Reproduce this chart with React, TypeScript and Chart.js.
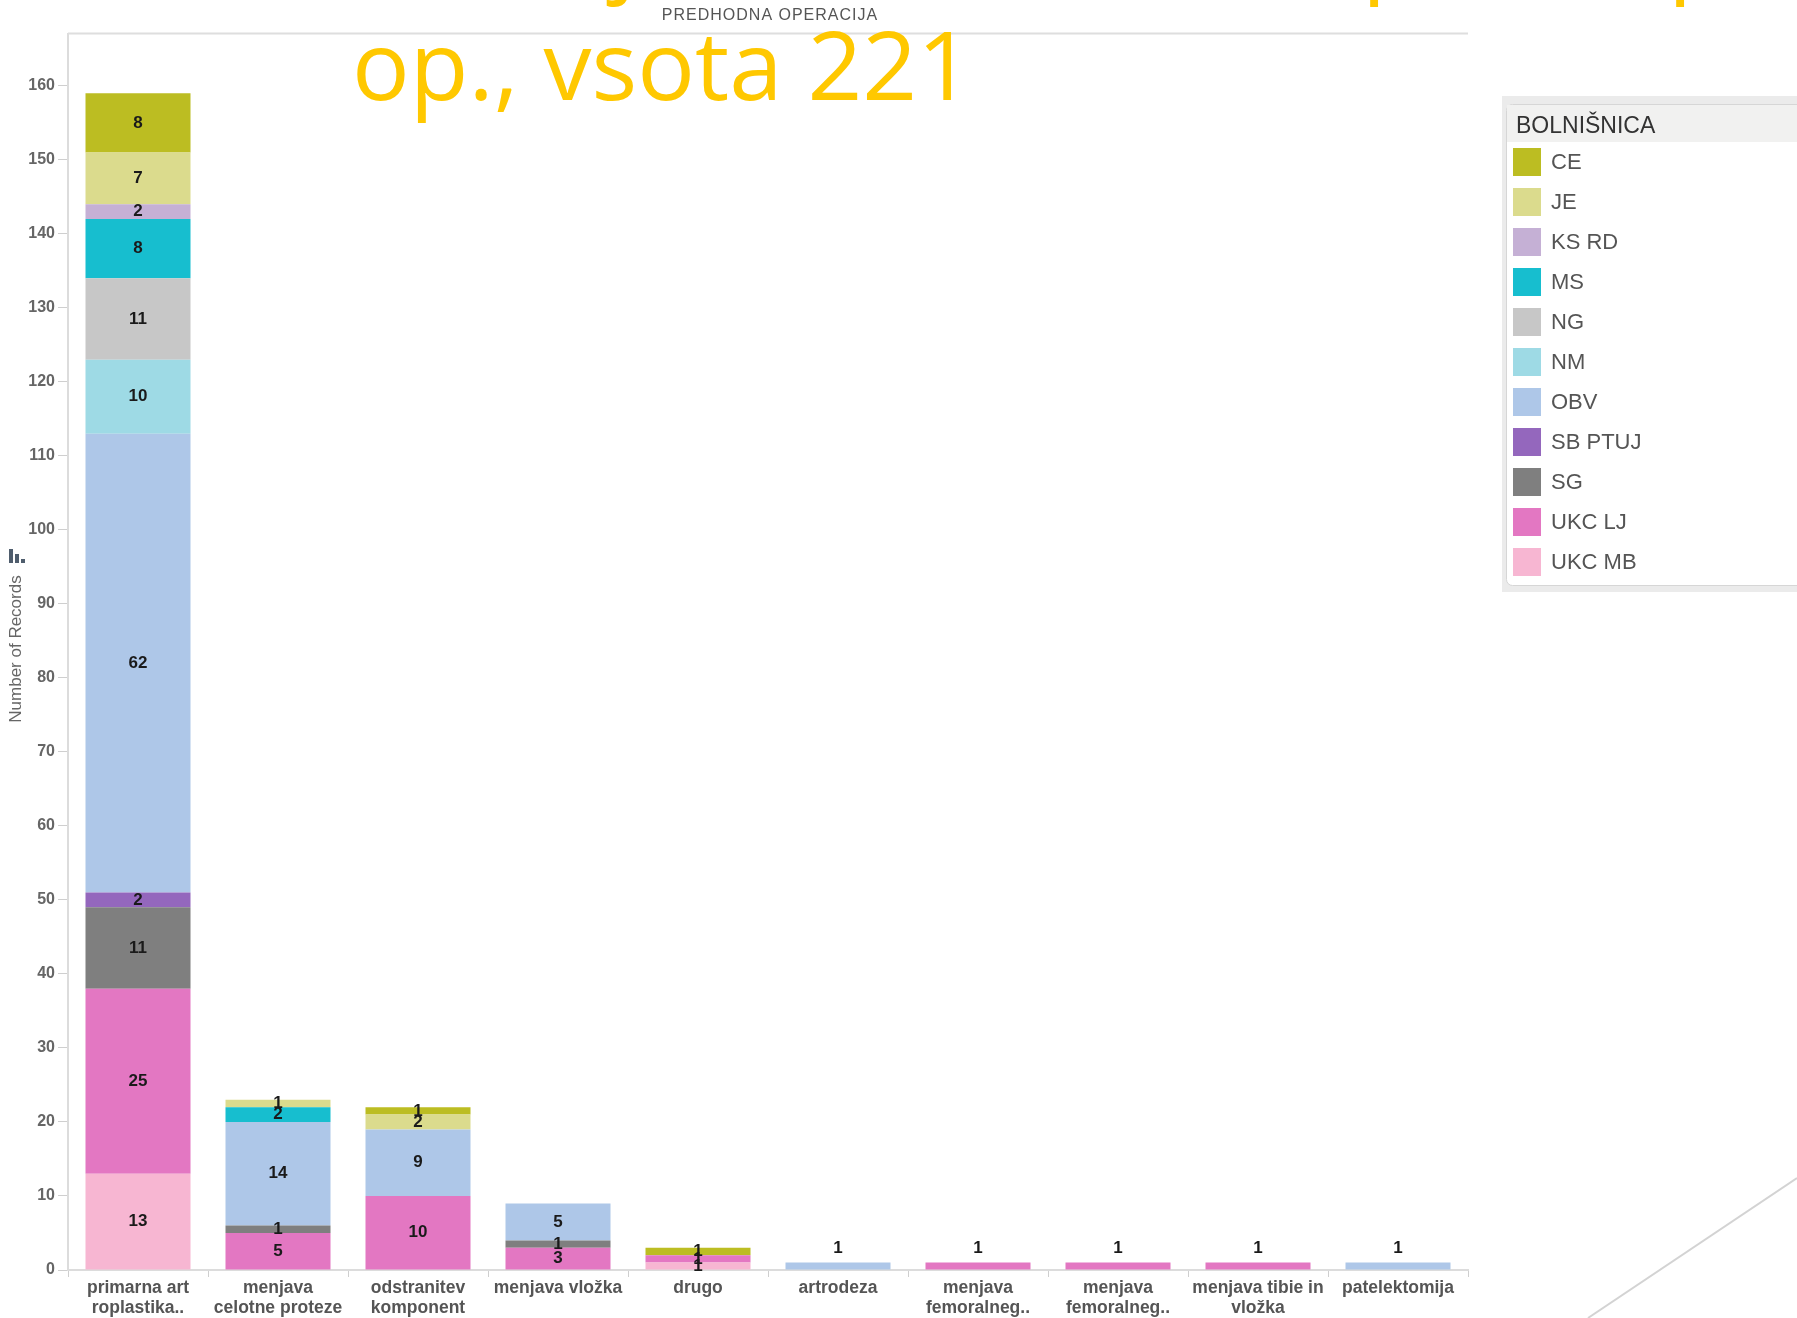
import React, { useEffect, useRef } from "react";
import { Chart, registerables } from "chart.js";

Chart.register(...registerables);

const categories: (string | string[])[] = [
  ["primarna art", "roplastika.."],
  ["menjava", "celotne proteze"],
  ["odstranitev", "komponent"],
  "menjava vložka",
  "drugo",
  "artrodeza",
  ["menjava", "femoralneg.."],
  ["menjava", "femoralneg.."],
  ["menjava tibie in", "vložka"],
  "patelektomija",
];

// stacked bottom -> top
const ukcMb = [13, 0, 0, 0, 1, 0, 0, 0, 0, 0];
const ukcLj = [25, 5, 10, 3, 1, 0, 1, 1, 1, 0];
const sg = [11, 1, 0, 1, 0, 0, 0, 0, 0, 0];
const sbPtuj = [2, 0, 0, 0, 0, 0, 0, 0, 0, 0];
const obv = [62, 14, 9, 5, 0, 1, 0, 0, 0, 1];
const nm = [10, 0, 0, 0, 0, 0, 0, 0, 0, 0];
const ng = [11, 0, 0, 0, 0, 0, 0, 0, 0, 0];
const ms = [8, 2, 0, 0, 0, 0, 0, 0, 0, 0];
const ksRd = [2, 0, 0, 0, 0, 0, 0, 0, 0, 0];
const je = [7, 1, 2, 0, 0, 0, 0, 0, 0, 0];
const ce = [8, 0, 1, 0, 1, 0, 0, 0, 0, 0];

const seriesNames = ["UKC MB", "UKC LJ", "SG", "SB PTUJ", "OBV", "NM", "NG", "MS", "KS RD", "JE", "CE"];
const seriesValues = [ukcMb, ukcLj, sg, sbPtuj, obv, nm, ng, ms, ksRd, je, ce];
const seriesColors = [
  "#F7B6D2", "#E377C2", "#7F7F7F", "#9467BD", "#AEC7E8", "#9EDAE5",
  "#C7C7C7", "#17BECF", "#C5B0D5", "#DBDB8D", "#BCBD22",
];

const legendTitle = "BOLNIŠNICA";
const xAxisTitle = "PREDHODNA OPERACIJA";
const yAxisTitle = "Number of Records";
const slideTitle = "op., vsota 221";
const yMax = 167;
const yStep = 10;

const FONT = '"Liberation Sans", Arial, sans-serif';

const decorPlugin = {
  id: "decor",
  afterDatasetsDraw(chart: any) {
    const ctx = chart.ctx as CanvasRenderingContext2D;
    ctx.save();
    ctx.font = `bold 17px ${FONT}`;
    ctx.fillStyle = "#1a1a1a";
    ctx.textAlign = "center";
    ctx.textBaseline = "middle";
    const ds = chart.data.datasets;
    for (let i = 0; i < categories.length; i++) {
      const nz: number[] = [];
      ds.forEach((d: any, k: number) => {
        if ((d.data[i] as number) > 0) nz.push(k);
      });
      nz.forEach((k) => {
        const el: any = chart.getDatasetMeta(k).data[i];
        const v = ds[k].data[i];
        const h = Math.abs(el.base - el.y);
        if (nz.length === 1 && h < 20) ctx.fillText(String(v), el.x, el.y - 14);
        else ctx.fillText(String(v), el.x, (el.y + el.base) / 2);
      });
    }
    ctx.restore();
  },
  afterDraw(chart: any) {
    const ctx = chart.ctx as CanvasRenderingContext2D;
    const area = chart.chartArea;
    ctx.save();
    // top border of plot
    ctx.strokeStyle = "#dedede";
    ctx.lineWidth = 2;
    ctx.beginPath();
    ctx.moveTo(area.left, 33.5);
    ctx.lineTo(area.right, 33.5);
    ctx.stroke();

    // x axis title (top)
    ctx.fillStyle = "#555";
    ctx.font = `16px ${FONT}`;
    (ctx as any).letterSpacing = "1px";
    ctx.textAlign = "center";
    ctx.textBaseline = "middle";
    ctx.fillText(xAxisTitle, 770, 16);
    (ctx as any).letterSpacing = "0px";

    // y axis title
    ctx.save();
    ctx.translate(16, 649);
    ctx.rotate(-Math.PI / 2);
    ctx.font = `17px ${FONT}`;
    ctx.fillStyle = "#666";
    ctx.fillText(yAxisTitle, 0, 0);
    ctx.restore();

    // small icon
    ctx.fillStyle = "#4f5d6d";
    ctx.fillRect(9, 549, 4, 14);
    ctx.fillRect(15, 554, 4, 9);
    ctx.fillRect(21, 559, 4, 4);

    // slide title (yellow)
    ctx.fillStyle = "#FFC800";
    ctx.font = '96px "Open Sans", "Noto Sans", sans-serif';
    ctx.textAlign = "left";
    ctx.textBaseline = "alphabetic";
    ctx.fillText(slideTitle, 352, 100);
    // cut-off previous line (only descenders visible)
    ctx.fillText("j", 612, -16);
    ctx.fillText("p", 1362, -16);
    ctx.fillText("p", 1668, -16);

    // legend
    ctx.fillStyle = "#ebebeb";
    ctx.fillRect(1502, 96, 295, 496);
    ctx.fillStyle = "#ffffff";
    ctx.strokeStyle = "#d6d6d6";
    ctx.lineWidth = 1;
    ctx.beginPath();
    (ctx as any).roundRect(1506.5, 104.5, 320, 481, [6, 0, 0, 6]);
    ctx.fill();
    ctx.stroke();
    ctx.fillStyle = "#f1f1f0";
    ctx.fillRect(1507, 105, 290, 37);
    ctx.fillStyle = "#333";
    ctx.font = `23px ${FONT}`;
    ctx.textAlign = "left";
    ctx.textBaseline = "alphabetic";
    ctx.fillText(legendTitle, 1516, 133);
    ctx.font = `22px ${FONT}`;
    const n = seriesNames.length;
    for (let j = 0; j < n; j++) {
      const idx = n - 1 - j;
      const y = 148 + 40 * j;
      ctx.fillStyle = seriesColors[idx];
      ctx.fillRect(1513, y, 28, 28);
      ctx.fillStyle = "#555";
      ctx.textBaseline = "middle";
      ctx.fillText(seriesNames[idx], 1551, y + 15);
    }

    // decorative diagonal line
    ctx.strokeStyle = "#d3d3d3";
    ctx.lineWidth = 2;
    ctx.beginPath();
    ctx.moveTo(1588, 1318);
    ctx.lineTo(1797, 1178);
    ctx.stroke();
    ctx.restore();
  },
};

export default function App() {
  const ref = useRef<HTMLCanvasElement>(null);
  useEffect(() => {
    if (!ref.current) return;
    const chart = new Chart(ref.current, {
      type: "bar",
      data: {
        labels: categories as any,
        datasets: seriesNames.map((name, k) => ({
          label: name,
          data: seriesValues[k],
          backgroundColor: seriesColors[k],
          borderWidth: 0,
          categoryPercentage: 1,
          barPercentage: 0.75,
        })),
      },
      options: {
        responsive: false,
        animation: false,
        layout: { padding: { top: 34, right: 329, left: 0, bottom: 0 } },
        plugins: { legend: { display: false }, tooltip: { enabled: false }, title: { display: false } },
        scales: {
          x: {
            stacked: true,
            offset: true,
            afterFit: (s: any) => {
              s.height = 48;
            },
            grid: { offset: true, drawOnChartArea: false, tickLength: 7, color: "#cfcfcf" },
            border: { display: true, color: "#dcdcdc", width: 2 },
            ticks: {
              autoSkip: false,
              maxRotation: 0,
              minRotation: 0,
              padding: 1,
              color: "#555",
              font: { family: FONT, size: 17.5, weight: "bold", lineHeight: 20 / 17.5 },
            },
          },
          y: {
            stacked: true,
            min: 0,
            max: yMax,
            afterFit: (s: any) => {
              s.width = 68;
            },
            grid: { drawOnChartArea: false, tickLength: 10, color: "#cfcfcf" },
            border: { display: true, color: "#dcdcdc", width: 2 },
            ticks: {
              stepSize: yStep,
              includeBounds: false,
              padding: 3,
              color: "#666",
              font: { family: FONT, size: 16, weight: "bold" },
            },
          },
        },
      },
      plugins: [decorPlugin],
    });
    return () => chart.destroy();
  }, []);
  return (
    <div style={{ position: "fixed", left: 0, top: 0, width: 1797, height: 1318, background: "#fff", overflow: "hidden" }}>
      <canvas ref={ref} width={1797} height={1318} style={{ display: "block", width: 1797, height: 1318 }} />
    </div>
  );
}
